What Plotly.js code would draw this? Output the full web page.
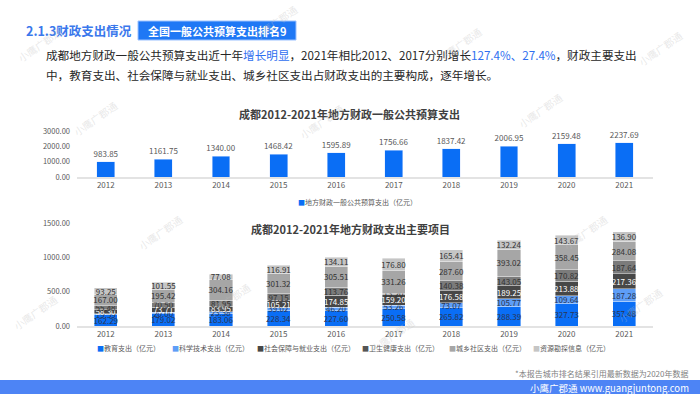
<!DOCTYPE html>
<html><head><meta charset="utf-8">
<script src="https://cdn.plot.ly/plotly-3.0.1.min.js"></script>
<style>html,body{margin:0;padding:0;background:#fff}#chart{width:700px;height:394px}</style>
</head><body><div id="chart"></div>
<script>
// ---- data ----
const years = ['2012','2013','2014','2015','2016','2017','2018','2019','2020','2021'];
const budgetSpending = [983.85,1161.75,1340.00,1468.42,1595.89,1756.66,1837.42,2006.95,2159.48,2237.69];
const education = [162.29,179.02,183.06,228.34,227.60,250.58,265.82,288.39,327.73,357.48];
const science = [19.59,20.00,23.38,39.02,46.20,53.26,73.07,105.77,109.64,187.28];
const socialSecurity = [58.30,73.71,83.95,105.21,174.85,159.20,176.58,189.25,213.88,217.36];
const health = [55.48,70.50,81.95,97.15,113.76,13.20,140.38,143.05,170.82,187.64];
const community = [167.00,195.42,304.16,301.32,305.51,331.26,287.60,393.02,358.45,284.08];
const resources = [93.25,101.55,77.08,116.91,134.11,176.80,165.41,132.24,143.67,136.90];
const topName = '地方财政一般公共预算支出（亿元）';
const seriesNames = ['教育支出（亿元）','科学技术支出（亿元）','社会保障与就业支出（亿元）','卫生健康支出（亿元）','城乡社区支出（亿元）','资源勘探信息（亿元）'];
const topTicks = [0,1000,2000,3000];
const bottomTicks = [0,500,1000,1500];

// ---- styles ----
const W = 700, H = 394;
const px = x => x / W, py = y => 1 - y / H;
const FONT = '"Noto Sans CJK SC", "Noto Sans", sans-serif';
const colors = ['#0a6ef5','#5e9ef7','#474747','#7b7b7b','#a6a6a6','#c5c5c5'];
const labelColors = ['#2a3550','#2a3550','#ffffff','#333333','#333333','#333333'];
const fmt = a => a.map(v => v.toFixed(2));

const traces = [{
  type:'bar', x: years, y: budgetSpending, xaxis:'x', yaxis:'y', name: topName,
  width: 0.31, marker:{color: colors[0], line:{color:'#dbe8ff', width:0.5}},
  text: fmt(budgetSpending), textposition:'outside', cliponaxis:false, textangle:0,
  textfont:{size:8, color:'#595959'}, hoverinfo:'x+y'
}];
const stacks = [education, science, socialSecurity, health, community, resources];
stacks.forEach((s, i) => traces.push({
  type:'bar', x: years, y: s, xaxis:'x2', yaxis:'y2', name: seriesNames[i],
  width: 0.4, marker:{color: colors[i], line:{color:'#ffffff', width:0.4}},
  text: fmt(s), textposition:'inside', insidetextanchor:'middle', constraintext:'none', textangle:0,
  textfont:{size:8, color: labelColors[i]}, hoverinfo:'x+y+name'
}));

const axX = {type:'category', showline:true, linecolor:'#e3e3e3', linewidth:1.5, ticks:'', showgrid:false, zeroline:false, tickfont:{size:8, color:'#595959'}, domain:[px(77), px(653)], fixedrange:true};
const axY = {showgrid:false, zeroline:false, showline:false, ticks:'', tickformat:'.2f', tickfont:{size:7.5, color:'#595959'}, ticklabelstandoff:6, fixedrange:true};

const ann = [];
const A = (o) => ann.push(Object.assign({xref:'paper', yref:'paper', showarrow:false, yanchor:'middle'}, o));

// header
A({x:px(24), y:py(30), xanchor:'left', text:'2.1.3财政支出情况', font:{size:12.5, color:'#3a78ec', family:FONT, weight:'bold'}});
A({x:px(217), y:py(30.5), xanchor:'center', text:'全国一般公共预算支出排名9', font:{size:11, color:'#ffffff', family:FONT, weight:'bold'}});
A({x:px(44), y:py(55), xanchor:'left', font:{size:11.6, color:'#262626', family:FONT},
  text:'成都地方财政一般公共预算支出近十年<span style="color:#2f6ff0">增长明显</span>，2021年相比2012、2017分别增长<span style="color:#2f6ff0">127.4%、27.4%</span>，财政主要支出'});
A({x:px(44), y:py(75), xanchor:'left', font:{size:11.6, color:'#262626', family:FONT},
  text:'中，教育支出、社会保障与就业支出、城乡社区支出占财政支出的主要构成，逐年增长。'});
// chart titles
A({x:px(349), y:py(114), xanchor:'center', text:'成都2012-2021年地方财政一般公共预算支出', font:{size:11, color:'#404040', family:FONT, weight:'bold'}});
A({x:px(350), y:py(229), xanchor:'center', text:'成都2012-2021年地方财政支出主要项目', font:{size:11, color:'#404040', family:FONT, weight:'bold'}});
// legends
A({x:px(296), y:py(202), xanchor:'left', text:'<span style="color:'+colors[0]+'">■</span>'+topName, font:{size:7, color:'#595959', family:FONT}});
const legX = [95, 170, 255, 360, 447, 531];
seriesNames.forEach((n, i) => A({x:px(legX[i]), y:py(348), xanchor:'left',
  text:'<span style="color:'+(i===3?'#555555':colors[i])+'">■</span>'+n, font:{size:7, color:'#595959', family:FONT}}));
// footer
A({x:px(691), y:py(373), xanchor:'right', text:'*本报告城市排名结果引用最新数据为2020年数据', font:{size:8, color:'#7f7f7f', family:FONT}});
A({x:px(691), y:py(387.5), xanchor:'right', text:'小鹰广郡通 www.guangjuntong.com', font:{size:9.5, color:'#ffffff', family:FONT}});
// watermarks
[[40,45],[275,22],[460,45],[660,48],[95,118],[322,122],[540,110],[160,232],[35,312],[228,300],[392,335],[585,232],[640,305]].forEach(p =>
  A({x:px(p[0]), y:py(p[1]), xanchor:'center', text:'小鹰广郡通', textangle:-35, font:{size:10, color:'rgba(190,190,190,0.35)', family:FONT}}));

const layout = {
  width:W, height:H, margin:{l:0,r:0,t:0,b:0}, paper_bgcolor:'#ffffff', plot_bgcolor:'rgba(0,0,0,0)',
  font:{family:FONT, color:'#595959'}, showlegend:false, barmode:'stack',
  uniformtext:{mode:'show', minsize:8},
  xaxis: Object.assign({}, axX, {anchor:'y'}),
  yaxis: Object.assign({}, axY, {anchor:'x', domain:[py(177), py(131)], range:[0,3000], tickvals:topTicks}),
  xaxis2: Object.assign({}, axX, {anchor:'y2'}),
  yaxis2: Object.assign({}, axY, {anchor:'x2', domain:[py(326), py(223)], range:[0,1500], tickvals:bottomTicks}),
  shapes:[
    {type:'rect', xref:'paper', yref:'paper', x0:px(138), x1:px(296), y0:py(40), y1:py(21), fillcolor:'#1f78f5', line:{color:'#9cc2ff', width:1}},
    {type:'rect', xref:'paper', yref:'paper', x0:0, x1:1, y0:0, y1:py(380), fillcolor:'#4d84f5', line:{width:0}}
  ],
  annotations: ann
};
Plotly.newPlot('chart', traces, layout, {displayModeBar:false, staticPlot:true});
</script></body></html>
